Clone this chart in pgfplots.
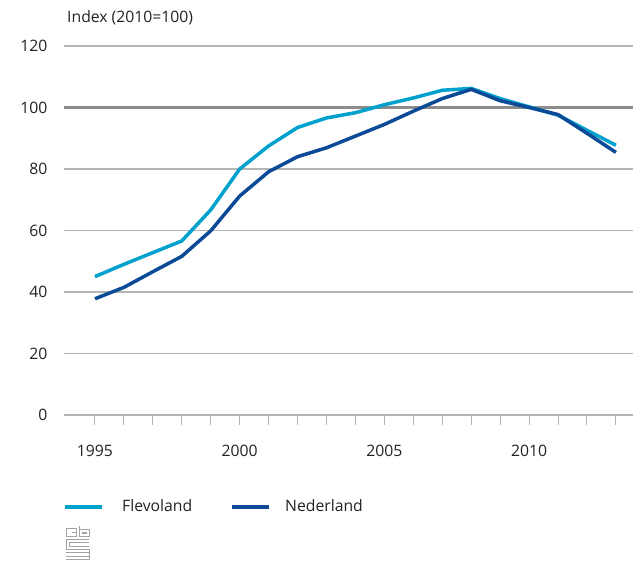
\documentclass[border=0pt]{standalone}
\usepackage{fontspec}
\setmainfont{Open Sans}
\usepackage{pgfplots}
\pgfplotsset{compat=1.18}
\definecolor{flevo}{HTML}{00A1CD}
\definecolor{nl}{HTML}{0A4A97}
\definecolor{gridc}{HTML}{B4B4B4}
\definecolor{refc}{HTML}{8C8C8C}
\definecolor{txt}{HTML}{222222}
\begin{document}
\begin{tikzpicture}[x=1bp,y=1bp]
\useasboundingbox (0,0) rectangle (633,563);
\begin{axis}[
  at={(64bp,148bp)}, anchor=south west,
  scale only axis, width=569bp, height=369bp,
  xmin=1993.93, xmax=2013.59, ymin=0, ymax=120,
  axis line style={draw=none},
  ytick={0,20,40,60,80,100,120},
  ymajorgrids, grid style={gridc, line width=1.2bp},
  ytick style={draw=none},
  xtick={1995,...,2013},
  xticklabels={1995,,,,,2000,,,,,2005,,,,,2010,,,},
  xtick pos=bottom, ytick pos=left,
  tick align=outside, major tick length=10bp,
  xtick style={gridc, line width=1bp},
  x tick label style={yshift=-17bp},
  y tick label style={xshift=-3bp},
  tick label style={font=\fontsize{15.8}{18}\selectfont, text=txt},
  /pgf/number format/assume math mode=true,
  /pgf/number format/1000 sep={},
  clip=false,
]
\draw[refc, line width=3.2bp] (axis cs:1993.93,100) -- (axis cs:2013.59,100);
\addplot[flevo, line width=3.5bp] coordinates {
(1995,45.0)(1996,49.0)(1997,52.8)(1998,56.6)(1999,66.7)(2000,80.0)(2001,87.5)(2002,93.5)(2003,96.6)(2004,98.3)(2005,100.9)(2006,103.1)(2007,105.6)(2008,106.2)(2009,102.9)(2010,100.2)(2011,97.5)(2012,92.6)(2013,87.7)};
\addplot[nl, line width=3.5bp] coordinates {
(1995,37.8)(1996,41.5)(1997,46.6)(1998,51.6)(1999,59.9)(2000,71.2)(2001,79.1)(2002,84.0)(2003,86.9)(2004,90.7)(2005,94.5)(2006,98.8)(2007,102.9)(2008,105.9)(2009,102.2)(2010,100.0)(2011,97.7)(2012,91.6)(2013,85.4)};
\end{axis}
\node[anchor=west, text=txt, font=\fontsize{15.8}{18}\selectfont, inner sep=0] at (67,545) {Index (2010=100)};
% legend
\draw[flevo, line width=3.5bp] (65,56) -- (102,56);
\node[anchor=west, text=txt, font=\fontsize{15.8}{18}\selectfont, inner sep=0] at (122,57) {Flevoland};
\draw[nl, line width=3.5bp] (232,56) -- (269,56);
\node[anchor=west, text=txt, font=\fontsize{15.8}{18}\selectfont, inner sep=0] at (285,57) {Nederland};
% logo
\begin{scope}[draw=refc!80, line width=0.9bp]
\draw (66,35) rectangle (76,27);
\draw (72,31) -- (76,31);
\draw (79,37) -- (79,27) -- (89,27) -- (89,34) -- (79,34);
\draw (82,30) rectangle (86,31);
\draw (89,24) -- (66,24) -- (66,14) -- (89,14) -- (89,4) -- (66,4);
\draw (89,21) -- (69,21) -- (69,17) -- (89,17);
\draw (89,11) -- (66,11);
\draw (89,7) -- (66,7);
\end{scope}
\end{tikzpicture}
\end{document}
